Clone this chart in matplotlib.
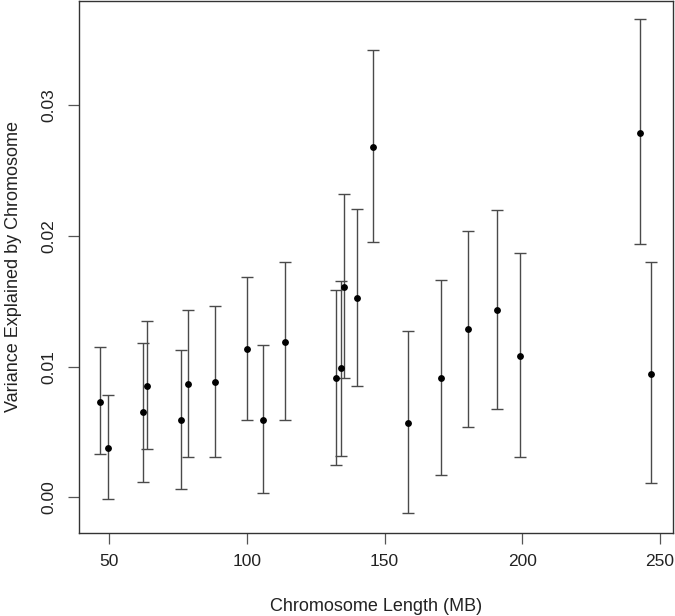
import matplotlib
matplotlib.use("Agg")
import matplotlib.pyplot as plt

# chromosome length (MB) and variance explained, with lower / upper bounds
chrom_length = [46.9, 49.5, 62.5, 63.8, 76.1, 78.7, 88.5, 100.0, 106.0, 114.0,
                132.4, 134.1, 135.2, 140.1, 145.9, 158.6, 170.5, 180.4, 190.9,
                199.2, 242.7, 246.7]
var_explained = [0.00733, 0.00380, 0.00649, 0.00854, 0.00588, 0.00867, 0.00882,
                 0.01135, 0.00593, 0.01191, 0.00912, 0.00989, 0.01610, 0.01523,
                 0.02684, 0.00567, 0.00912, 0.01288, 0.01436, 0.01084, 0.02790,
                 0.00947]
ci_lower = [0.00330, -0.00013, 0.00120, 0.00370, 0.00061, 0.00311, 0.00307,
            0.00593, 0.00035, 0.00593, 0.00248, 0.00317, 0.00912, 0.00848,
            0.01952, -0.00123, 0.00171, 0.00541, 0.00675, 0.00307, 0.01940,
            0.00110]
ci_upper = [0.01147, 0.00779, 0.01181, 0.01347, 0.01124, 0.01431, 0.01467,
            0.01687, 0.01168, 0.01799, 0.01584, 0.01659, 0.02320, 0.02209,
            0.03425, 0.01270, 0.01666, 0.02037, 0.02203, 0.01871, 0.03660,
            0.01800]

x_ticks = [50, 100, 150, 200, 250]
y_ticks = [0.00, 0.01, 0.02, 0.03]

plt.rcParams['font.family'] = ['Liberation Sans', 'DejaVu Sans']

fig = plt.figure(figsize=(6.75, 6.16), dpi=100)
ax = fig.add_axes([79 / 675, 83 / 616, 594 / 675, 532 / 616])

err_low = [v - lo for v, lo in zip(var_explained, ci_lower)]
err_high = [hi - v for v, hi in zip(var_explained, ci_upper)]
ax.errorbar(chrom_length, var_explained, yerr=[err_low, err_high],
            fmt='none', ecolor='#4a4a4a', elinewidth=1.0, capsize=4.0,
            capthick=1.0)
ax.plot(chrom_length, var_explained, 'o', color='black', markersize=3.9,
        zorder=3)

ax.set_xlim(39.1, 254.7)
ax.set_ylim(-0.00274, 0.0380)
ax.set_xticks(x_ticks)
ax.set_xticklabels([str(t) for t in x_ticks])
ax.set_yticks(y_ticks)
ax.set_yticklabels(['0.00', '0.01', '0.02', '0.03'], rotation=90, va='center')

ax.tick_params(axis='both', direction='out', length=8, width=0.9,
               color='#555555', labelsize=12.5, labelcolor='#222222')
ax.tick_params(axis='x', pad=7)
ax.tick_params(axis='y', pad=8)
for sp in ax.spines.values():
    sp.set_color('#333333')
    sp.set_linewidth(1.0)

ax.set_xlabel('Chromosome Length (MB)', fontsize=13, color='#222222',
              labelpad=21)
ax.set_ylabel('Variance Explained by Chromosome', fontsize=13,
              color='#222222', labelpad=14)

fig.savefig('out.png', dpi=100)
